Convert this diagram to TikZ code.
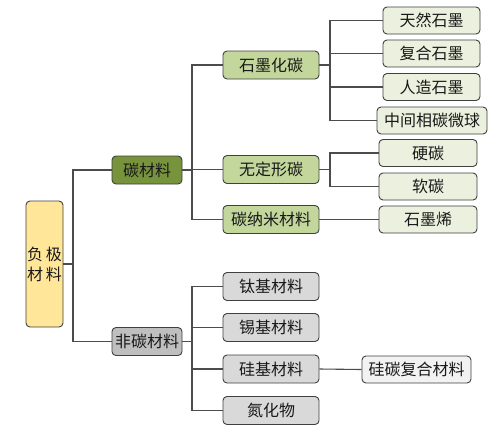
\documentclass[tikz,border=0pt]{standalone}
\usepackage{fontspec}
\setmainfont{Noto Sans CJK SC}
\begin{document}
\begin{tikzpicture}[x=1pt,y=1pt,
  box/.style={draw=black!75, line width=0.9pt, rounded corners=4pt, inner sep=0pt, font=\fontsize{16}{18}\selectfont, text=black!90},
  lvone/.style={box, minimum width=70pt, minimum height=28pt},
  lvtwo/.style={box, minimum width=96pt, minimum height=28pt},
  leaf/.style={box, minimum width=97pt, minimum height=27pt},
  conn/.style={draw=black!70, line width=1.1pt}]
\definecolor{rootfill}{HTML}{FFE699}
\definecolor{cfill}{HTML}{77933C}
\definecolor{gtwo}{HTML}{C3D69B}
\definecolor{gleaf}{HTML}{EBF1DE}
\definecolor{ncfill}{HTML}{BFBFBF}
\definecolor{ntwo}{HTML}{D9D9D9}
\definecolor{nleaf}{HTML}{F2F2F2}
\useasboundingbox (0,0) rectangle (500,-437);
\fill[white] (0,0) rectangle (500,-437);
% root
\node[box, fill=rootfill, minimum width=37pt, minimum height=126pt, align=center, font=\fontsize{16}{20}\selectfont] (root) at (44.5,-264) {负\,极\\材\,料};
% level 1
\node[lvone, fill=cfill] (carbon) at (147,-170) {碳材料};
\node[lvone, fill=ncfill] (noncarbon) at (147,-341.5) {非碳材料};
% level 2 carbon
\node[lvtwo, fill=gtwo] (graph) at (271,-65) {石墨化碳};
\node[lvtwo, fill=gtwo] (amor) at (271,-169.5) {无定形碳};
\node[lvtwo, fill=gtwo] (nano) at (271,-219.5) {碳纳米材料};
% leaves carbon
\node[leaf, fill=gleaf] (nat) at (431.5,-20.5) {天然石墨};
\node[leaf, fill=gleaf] (comp) at (431.5,-53.5) {复合石墨};
\node[leaf, fill=gleaf] (art) at (431.5,-87) {人造石墨};
\node[leaf, fill=gleaf, minimum width=110pt] (meso) at (432,-120.5) {中间相碳微球};
\node[leaf, fill=gleaf, minimum width=98pt] (hard) at (428,-153) {硬碳};
\node[leaf, fill=gleaf, minimum width=98pt] (soft) at (428,-186.5) {软碳};
\node[leaf, fill=gleaf, minimum width=98pt] (gra) at (428,-219.5) {石墨烯};
% level 2 non carbon
\node[lvtwo, fill=ntwo] (ti) at (271,-286.5) {钛基材料};
\node[lvtwo, fill=ntwo] (sn) at (271,-327.5) {锡基材料};
\node[lvtwo, fill=ntwo] (si) at (271,-369) {硅基材料};
\node[lvtwo, fill=ntwo] (nit) at (271,-410.5) {氮化物};
\node[leaf, fill=nleaf, minimum width=109pt] (sic) at (416.5,-369.5) {硅碳复合材料};
% bus coordinates
\coordinate (b0) at (73,0);
\coordinate (b1) at (192,0);
\coordinate (b2) at (330,0);
\coordinate (b3) at (330,0);
\coordinate (b4) at (192,0);
% connectors
\draw[conn] (root.east) -- (root.east -| b0);
\draw[conn] (carbon.west) -| (b0 |- noncarbon.west) -- (noncarbon.west);
\draw[conn] (carbon.east) -- (carbon.east -| b1);
\draw[conn] (graph.west) -| (b1 |- nano.west) -- (nano.west);
\draw[conn] (b1 |- amor.west) -- (amor.west);
\draw[conn] (graph.east) -- (graph.east -| b2);
\draw[conn] (nat.west) -| (b2 |- meso.west) -- (meso.west);
\draw[conn] (b2 |- comp.west) -- (comp.west);
\draw[conn] (b2 |- art.west) -- (art.west);
\draw[conn] (amor.east) -- (amor.east -| b3);
\draw[conn] (hard.west) -| (b3 |- soft.west) -- (soft.west);
\draw[conn] (nano.east) -- (gra.west);
\draw[conn] (noncarbon.east) -- (noncarbon.east -| b4);
\draw[conn] (ti.west) -| (b4 |- nit.west) -- (nit.west);
\draw[conn] (b4 |- sn.west) -- (sn.west);
\draw[conn] (b4 |- si.west) -- (si.west);
\draw[conn] (si.east) -- (sic.west);
\end{tikzpicture}
\end{document}
